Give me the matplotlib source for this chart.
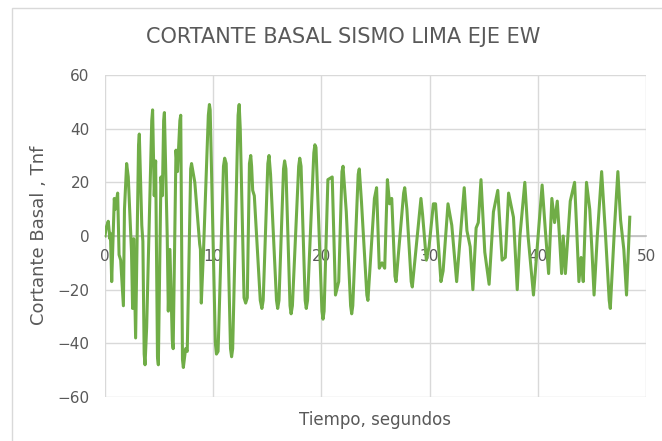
import matplotlib.pyplot as plt
from matplotlib.patches import Rectangle

# puntos de la señal (tiempo en s, cortante en Tnf)
tiempo = [0.0, 0.1, 0.3, 0.45, 0.5, 0.62, 0.86, 0.95, 1.17, 1.3, 1.45, 1.7, 1.8, 2.0,
          2.15, 2.35, 2.45, 2.55, 2.65, 2.83, 3.1, 3.17, 3.4, 3.5, 3.62, 3.7, 3.85,
          4.32, 4.4, 4.55, 4.68, 4.85, 4.93, 5.17, 5.3, 5.42, 5.49, 5.75, 5.85, 6.0,
          6.22, 6.3, 6.56, 6.7, 6.92, 7.0, 7.16, 7.24, 7.45, 7.6, 7.92, 8.0, 8.3,
          8.75, 8.82, 8.9, 9.1, 9.55, 9.65, 9.72, 10.2, 10.3, 10.45, 10.95, 11.06,
          11.2, 11.6, 11.7, 11.8, 12.3, 12.4, 12.5, 12.85, 13.0, 13.15, 13.35, 13.47,
          13.55, 13.65, 13.8, 14.35, 14.5, 14.62, 15.05, 15.16, 15.3, 15.85, 15.96,
          16.08, 16.5, 16.6, 16.72, 17.1, 17.2, 17.32, 17.9, 18.0, 18.12, 18.5, 18.6,
          18.72, 19.3, 19.4, 19.5, 20.05, 20.15, 20.25, 20.6, 21.0, 21.3, 21.6, 21.9,
          22.0, 22.3, 22.7, 22.8, 22.9, 23.4, 23.5, 23.7, 24.2, 24.3, 24.9, 25.1,
          25.35, 25.6, 25.85, 26.1, 26.3, 26.5, 26.8, 26.9, 27.6, 27.7, 27.9, 28.3,
          28.4, 29.2, 29.35, 29.7, 29.95, 30.35, 30.55, 31.05, 31.25, 31.7, 32.05,
          32.5, 33.2, 33.45, 33.75, 34.0, 34.3, 34.5, 34.75, 35.1, 35.5, 35.9, 36.3,
          36.7, 37.0, 37.3, 37.75, 38.1, 38.35, 38.8, 39.1, 39.6, 40.4, 40.7, 41.0,
          41.3, 41.55, 41.8, 42.0, 42.2, 42.35, 42.55, 43.0, 43.4, 43.6, 43.8, 44.0,
          44.2, 44.5, 44.8, 45.0, 45.2, 45.5, 45.9, 46.25, 46.6, 46.7, 47.1, 47.4,
          47.65, 47.95, 48.2, 48.5]
cortante = [0, 3, 5.5, -1, 1, -17, 14, 10, 16, -7, -9, -26, 10, 27,
            22, 3, -6, -27, -1, -38, 34, 38, 4, -2, -44, -48, -34,
            43, 47, 15, 28, -45, -48, 22, 15, 43, 46, 0, -28, -5,
            -39, -42, 32, 24, 43, 45, -46, -49, -42, -43, 25, 27, 20,
            -3, -5, -25, -6, 45, 49, 47, -40, -44, -43, 26, 29,
            27, -42, -45, -42, 45, 49, 40, -23, -25, -23, 27, 30,
            26, 17, 15, -24, -27, -24, 27, 30, 23, -24, -27,
            -24, 25, 28, 25, -26, -29, -26, 26, 29, 26, -24, -27,
            -24, 31, 34, 33, -28, -31, -28, 21, 22, -22, -17, 24,
            26, 9, -26, -29, -26, 23, 25, 13, -22, -24, 14, 18,
            -12, -10, -12, 21, 12, 14, -15, -17, 16, 18, 10, -17,
            -19, 14, 8, -9, -4, 12, 12, -17, -13, 12, 4,
            -17, 18, 2, -4, -20, 3, 5, 21, -6, -18, 9, 17,
            -9, -8, 16, 7, -20, 0, 20, 0, -22, 19, 2, -14,
            14, 5, 13, 0, -14, 0, -14, 13, 20, 2, -17, -8,
            -17, 20, 10, -5, -22, 0, 24, 1, -24, -27, 4, 24,
            6, -5, -22, 7]

x_ticks = [0, 10, 20, 30, 40, 50]
y_ticks = [-60, -40, -20, 0, 20, 40, 60]

gris = '#595959'
fig = plt.figure(figsize=(6.62, 4.41), dpi=100)
ax = fig.add_axes([105 / 662, 1 - 397 / 441, 541 / 662, 322 / 441])

# marco del grafico
fig.patches.append(Rectangle((12 / 662, -0.1), 1.2, 1 - 8 / 441 + 0.1,
                             transform=fig.transFigure, fill=False,
                             edgecolor='#d9d9d9', linewidth=1))

ax.plot(tiempo, cortante, color='#70ad47', linewidth=2.2, zorder=3,
        solid_joinstyle='round')

ax.set_xlim(0, 50)
ax.set_ylim(-60, 60)
ax.set_xticks(x_ticks)
ax.set_yticks(y_ticks)
ax.grid(True, color='#d9d9d9', linewidth=1)
ax.set_axisbelow(True)

for s in ['top', 'right', 'left']:
    ax.spines[s].set_visible(False)
ax.spines['bottom'].set_position(('data', 0))
ax.spines['bottom'].set_color('#bfbfbf')
ax.spines['bottom'].set_linewidth(1.2)

ax.tick_params(axis='both', length=0, labelsize=11, labelcolor=gris)
ax.tick_params(axis='y', pad=11)
ax.tick_params(axis='x', pad=9)

ax.set_xlabel('Tiempo, segundos', fontsize=12, color=gris)
ax.xaxis.set_label_coords(0.499, -0.045)
ax.set_ylabel('Cortante Basal , Tnf', fontsize=13, color=gris)
ax.yaxis.set_label_coords(-0.105, 0.503)

fig.text(343 / 662, 1 - 37 / 441, 'CORTANTE BASAL SISMO LIMA EJE EW',
         fontsize=15, color=gris, ha='center', va='center')

fig.savefig('out.png', dpi=100)
